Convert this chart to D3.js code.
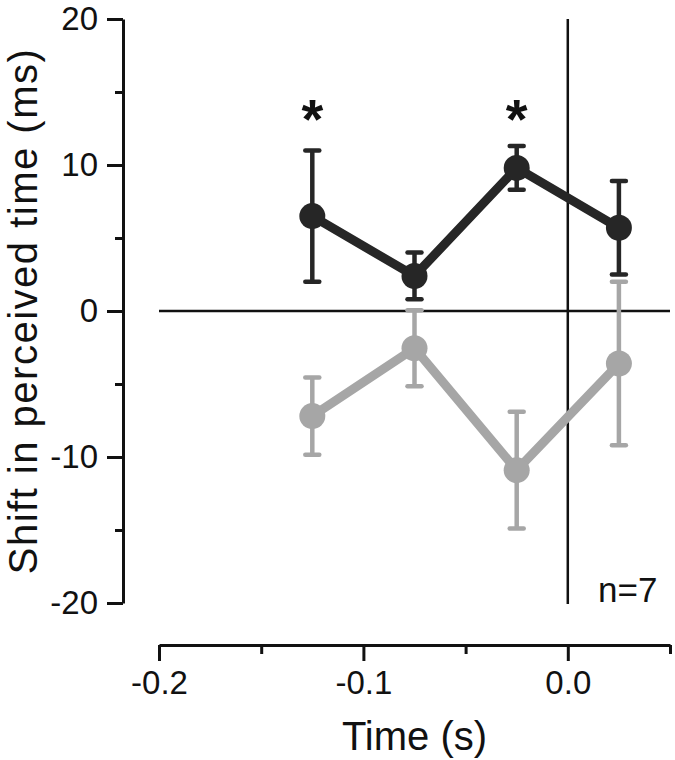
<!DOCTYPE html>
<html>
<head>
<meta charset="utf-8">
<script src="https://cdn.jsdelivr.net/npm/d3@7"></script>
<style>
  body { margin: 0; background: #fff; }
  svg { font-family: "Liberation Sans", Arial, sans-serif; }
</style>
</head>
<body>
<svg id="chart" width="675" height="760"></svg>
<script>
// time points (s)
var times = [-0.125, -0.075, -0.025, 0.025];
// upper (black) condition
var blackMean = [6.5, 2.4, 9.8, 5.7];
var blackErr = [4.5, 1.6, 1.5, 3.2];
// lower (grey) condition
var greyMean = [-7.2, -2.55, -10.9, -3.6];
var greyErr = [2.65, 2.6, 4.0, 5.6];
// significant points (index into times)
var sigIdx = [0, 2];
var sampleLabel = "n=7";

var xMajor = [-0.2, -0.1, 0.0];
var xMinor = [-0.15, -0.05, 0.05];
var yMajor = [20, 10, 0, -10, -20];
var yMinor = [15, 5, -5, -15];

var svg = d3.select("#chart");

var x = d3.scaleLinear().domain([-0.2, 0.05]).range([159, 670]);
var y = d3.scaleLinear().domain([-20, 20]).range([603, 19]);

var xAxisY = 645, yAxisX = 123;

// minor ticks
svg.append("g")
  .attr("transform", "translate(" + yAxisX + ",0)")
  .call(d3.axisLeft(y).tickValues(yMinor).tickSize(8).tickSizeOuter(0).tickFormat(""))
  .call(g => g.select(".domain").remove());
svg.append("g")
  .attr("transform", "translate(0," + xAxisY + ")")
  .call(d3.axisBottom(x).tickValues(xMinor).tickSize(9).tickSizeOuter(0).tickFormat(""))
  .call(g => g.select(".domain").remove());

// major axes
svg.append("g")
  .attr("transform", "translate(" + yAxisX + ",0)")
  .call(d3.axisLeft(y).tickValues(yMajor).tickSize(16).tickSizeOuter(0).tickPadding(9)
    .tickFormat(d => String(d)));
svg.append("g")
  .attr("transform", "translate(0," + xAxisY + ")")
  .call(d3.axisBottom(x).tickValues(xMajor).tickSize(16).tickSizeOuter(0).tickPadding(10)
    .tickFormat(d => d.toFixed(1)));

svg.selectAll(".tick line, .domain")
  .attr("stroke", "#111")
  .attr("stroke-width", 3);
svg.selectAll(".tick text")
  .attr("fill", "#111")
  .style("font-size", "33px");

// reference lines
svg.append("line")
  .attr("x1", x(-0.2)).attr("x2", x(0.05))
  .attr("y1", y(0)).attr("y2", y(0))
  .attr("stroke", "#111").attr("stroke-width", 2.5);
svg.append("line")
  .attr("x1", x(0)).attr("x2", x(0))
  .attr("y1", y(20)).attr("y2", y(-20) + 1)
  .attr("stroke", "#111").attr("stroke-width", 2.5);

// axis titles
svg.append("text")
  .attr("x", (x(-0.2) + x(0.05)) / 2)
  .attr("y", 750)
  .attr("text-anchor", "middle")
  .style("font-size", "40px")
  .attr("fill", "#111")
  .text("Time (s)");
svg.append("text")
  .attr("transform", "translate(37," + y(0) + ") rotate(-90)")
  .attr("text-anchor", "middle")
  .style("font-size", "40px")
  .style("letter-spacing", "1.5px")
  .attr("fill", "#111")
  .text("Shift in perceived time (ms)");

// series drawing
function drawSeries(means, errs, color) {
  var data = times.map((t, i) => ({ t: t, m: means[i], e: errs[i] }));
  var g = svg.append("g");

  var bars = g.selectAll(".err").data(data).enter().append("g");
  bars.append("line")
    .attr("x1", d => x(d.t)).attr("x2", d => x(d.t))
    .attr("y1", d => y(d.m + d.e)).attr("y2", d => y(d.m - d.e))
    .attr("stroke", color).attr("stroke-width", 4.5);
  bars.append("line")
    .attr("x1", d => x(d.t) - 7).attr("x2", d => x(d.t) + 7)
    .attr("y1", d => y(d.m + d.e)).attr("y2", d => y(d.m + d.e))
    .attr("stroke", color).attr("stroke-width", 4.5).attr("stroke-linecap", "round");
  bars.append("line")
    .attr("x1", d => x(d.t) - 7).attr("x2", d => x(d.t) + 7)
    .attr("y1", d => y(d.m - d.e)).attr("y2", d => y(d.m - d.e))
    .attr("stroke", color).attr("stroke-width", 4.5).attr("stroke-linecap", "round");

  g.append("path")
    .datum(data)
    .attr("fill", "none")
    .attr("stroke", color)
    .attr("stroke-width", 9)
    .attr("stroke-linejoin", "round")
    .attr("d", d3.line().x(d => x(d.t)).y(d => y(d.m)));

  g.selectAll("circle").data(data).enter().append("circle")
    .attr("cx", d => x(d.t)).attr("cy", d => y(d.m))
    .attr("r", 13)
    .attr("fill", color);
}

drawSeries(greyMean, greyErr, "#a6a6a6");
drawSeries(blackMean, blackErr, "#262626");

// significance markers
svg.selectAll(".sig").data(sigIdx).enter().append("text")
  .attr("x", i => x(times[i]))
  .attr("y", y(10) - 27)
  .attr("text-anchor", "middle")
  .style("font-size", "56px")
  .style("font-weight", "bold")
  .attr("fill", "#111")
  .text("*");

svg.append("text")
  .attr("x", 598)
  .attr("y", 602)
  .style("font-size", "35px")
  .attr("fill", "#111")
  .text(sampleLabel);
</script>
</body>
</html>
